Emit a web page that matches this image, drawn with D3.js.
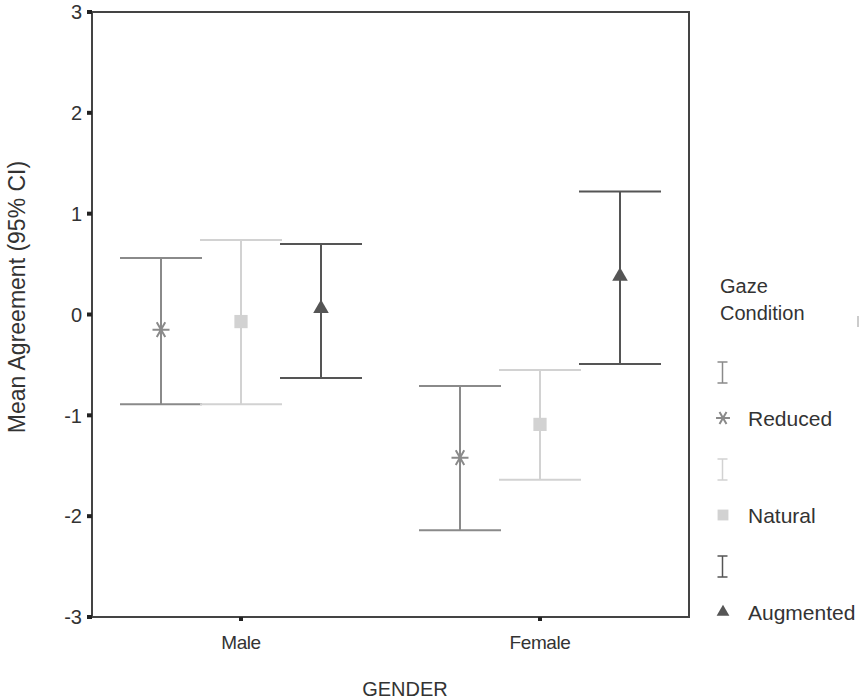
<!DOCTYPE html>
<html>
<head>
<meta charset="utf-8">
<script src="https://cdn.jsdelivr.net/npm/d3@7"></script>
<style>
  body { margin: 0; background: #fff; }
  svg { display: block; font-family: "Liberation Sans", Arial, sans-serif; }
</style>
</head>
<body>
<div class="container"></div>
<script>
// data
const genders = ["Male", "Female"];
const conditions = ["Reduced", "Natural", "Augmented"];
const means = [
    [-0.15, -0.07, 0.06],   // Male
    [-1.42, -1.09, 0.38]    // Female
];
const lowers = [
    [-0.89, -0.89, -0.63],
    [-2.14, -1.64, -0.49]
];
const uppers = [
    [0.56, 0.74, 0.70],
    [-0.71, -0.55, 1.22]
];
const yTicks = [-3, -2, -1, 0, 1, 2, 3];

const colors = { Reduced: "#8a8a8a", Natural: "#d2d2d2", Augmented: "#555555" };

const width = 859, height = 700;
const plot = { left: 92, top: 12, right: 689, bottom: 617 };

const svg = d3.select(".container")
    .append("svg")
    .attr("width", width)
    .attr("height", height);

// gender tick positions on the x axis
const x = d3.scalePoint()
    .domain(genders)
    .range([241, 540]);

// offset of each condition inside a gender group
const xOffset = d3.scalePoint()
    .domain(conditions)
    .range([-80, 80]);

const y = d3.scaleLinear()
    .domain([-3, 3])
    .range([plot.bottom, plot.top]);

// flatten the table into records
const records = [];
genders.forEach((g, gi) => {
    conditions.forEach((c, ci) => {
        records.push({ gender: g, cond: c, mean: means[gi][ci], lo: lowers[gi][ci], hi: uppers[gi][ci] });
    });
});

const cx = d => x(d.gender) + xOffset(d.cond);
const capHalf = 41;

// frame
svg.append("rect")
    .attr("x", plot.left)
    .attr("y", plot.top)
    .attr("width", plot.right - plot.left)
    .attr("height", plot.bottom - plot.top)
    .attr("fill", "none")
    .attr("stroke", "#444")
    .attr("stroke-width", 2);

// y axis ticks and labels
const yAxis = svg.append("g");
yAxis.selectAll("rect")
    .data(yTicks)
    .enter()
    .append("rect")
    .attr("x", plot.left - 5)
    .attr("y", d => y(d) - 2)
    .attr("width", 5)
    .attr("height", 4)
    .attr("fill", "#222");
yAxis.selectAll("text")
    .data(yTicks)
    .enter()
    .append("text")
    .attr("x", plot.left - 10)
    .attr("y", d => y(d))
    .attr("dy", "0.36em")
    .attr("text-anchor", "end")
    .attr("font-size", 20)
    .attr("fill", "#333")
    .text(d => d);

// x axis ticks and labels
const xAxis = svg.append("g");
xAxis.selectAll("rect")
    .data(genders)
    .enter()
    .append("rect")
    .attr("x", d => x(d) - 2)
    .attr("y", plot.bottom)
    .attr("width", 4)
    .attr("height", 4)
    .attr("fill", "#222");
xAxis.selectAll("text")
    .data(genders)
    .enter()
    .append("text")
    .attr("x", d => x(d))
    .attr("y", 649)
    .attr("text-anchor", "middle")
    .attr("font-size", 19)
    .attr("letter-spacing", -0.4)
    .attr("fill", "#333")
    .text(d => d);

// axis titles
svg.append("text")
    .attr("transform", `translate(25, 297) rotate(-90)`)
    .attr("text-anchor", "middle")
    .attr("font-size", 23)
    .attr("fill", "#333")
    .text("Mean Agreement (95% CI)");

svg.append("text")
    .attr("x", 405)
    .attr("y", 696)
    .attr("text-anchor", "middle")
    .attr("font-size", 20)
    .attr("fill", "#333")
    .text("GENDER");

// error bars
const bars = svg.append("g")
    .selectAll("g")
    .data(records)
    .enter()
    .append("g")
    .attr("stroke", d => colors[d.cond])
    .attr("stroke-width", 2);

bars.append("line")
    .attr("x1", cx).attr("x2", cx)
    .attr("y1", d => y(d.lo)).attr("y2", d => y(d.hi));
bars.append("line")
    .attr("x1", d => cx(d) - capHalf).attr("x2", d => cx(d) + capHalf)
    .attr("y1", d => y(d.hi)).attr("y2", d => y(d.hi));
bars.append("line")
    .attr("x1", d => cx(d) - capHalf).attr("x2", d => cx(d) + capHalf)
    .attr("y1", d => y(d.lo)).attr("y2", d => y(d.lo));

// asterisk: horizontal arm plus two diagonals
function asteriskPath(r) {
    const p = d3.path();
    [0, 60, 120].forEach(a => {
        const t = a * Math.PI / 180;
        p.moveTo(-r * Math.cos(t), -r * Math.sin(t));
        p.lineTo(r * Math.cos(t), r * Math.sin(t));
    });
    return p.toString();
}

// markers
function drawMarker(sel, cond, scale) {
    if (cond === "Reduced") {
        sel.append("path")
            .attr("d", asteriskPath(8.5 * scale))
            .attr("fill", "none")
            .attr("stroke", colors[cond])
            .attr("stroke-width", 2);
    } else if (cond === "Natural") {
        sel.append("path")
            .attr("d", d3.symbol(d3.symbolSquare, 175 * scale * scale)())
            .attr("fill", colors[cond]);
    } else {
        sel.append("path")
            .attr("d", d3.symbol(d3.symbolTriangle, 105 * scale * scale)())
            .attr("fill", colors[cond]);
    }
}

records.forEach(d => {
    const g = svg.append("g")
        .attr("transform", `translate(${cx(d)}, ${y(d.mean)})`);
    drawMarker(g, d.cond, 1);
});

// legend
const legend = svg.append("g").attr("transform", "translate(720, 0)");
legend.append("text")
    .attr("x", 0).attr("y", 293)
    .attr("font-size", 20).attr("fill", "#333")
    .text("Gaze");
legend.append("text")
    .attr("x", 0).attr("y", 320)
    .attr("font-size", 20).attr("fill", "#333")
    .text("Condition");

const legendY = d3.scalePoint()
    .domain(conditions)
    .range([372, 566]);

conditions.forEach(c => {
    const by = legendY(c);
    const bar = legend.append("g").attr("stroke", colors[c]).attr("stroke-width", 1.5);
    bar.append("line").attr("x1", 2.5).attr("x2", 2.5).attr("y1", by - 10).attr("y2", by + 11);
    bar.append("line").attr("x1", -2.5).attr("x2", 7.5).attr("y1", by - 10).attr("y2", by - 10);
    bar.append("line").attr("x1", -2.5).attr("x2", 7.5).attr("y1", by + 11).attr("y2", by + 11);

    const my = by + 46;
    const mg = legend.append("g").attr("transform", `translate(3, ${my})`);
    drawMarker(mg, c, 0.82);
    legend.append("text")
        .attr("x", 28).attr("y", my)
        .attr("dy", "0.36em")
        .attr("font-size", 21).attr("fill", "#333")
        .text(c);
});

// small clipped mark at the right edge
svg.append("line")
    .attr("x1", 858).attr("x2", 858)
    .attr("y1", 316).attr("y2", 327)
    .attr("stroke", "#bbb")
    .attr("stroke-width", 1.5);
</script>
</body>
</html>
